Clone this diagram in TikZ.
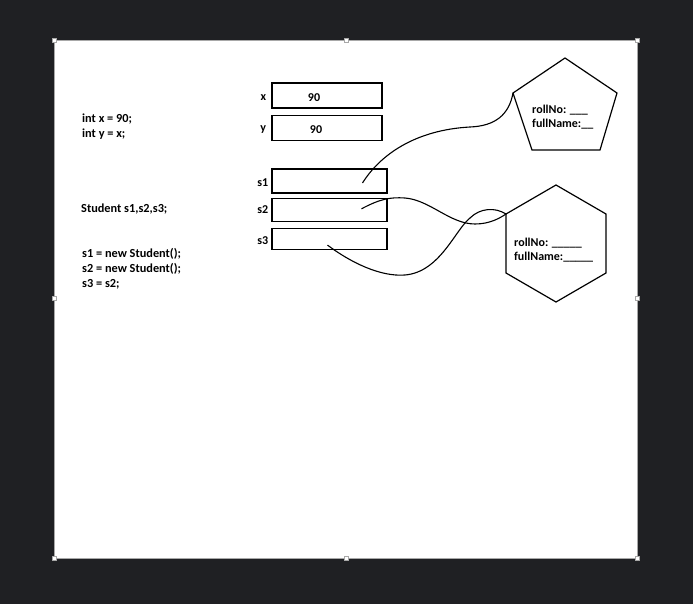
\documentclass[tikz,border=0pt]{standalone}
\usepackage{fontspec}
\setmainfont{Carlito}
\usetikzlibrary{positioning,calc}
\definecolor{bgDark}{HTML}{1F2023}
\definecolor{pageEdge}{HTML}{A8A8A8}
\definecolor{inkBlack}{HTML}{000000}

\begin{document}
\begin{tikzpicture}[x=1pt,y=-1pt,
    varbox/.style={draw=inkBlack,line width=1.3pt,minimum width=110pt,
                   minimum height=25pt,inner sep=0pt},
    refbox/.style={varbox,minimum width=115pt,minimum height=23pt},
    vname/.style={font=\bfseries\fontsize{12}{14}\selectfont,inner sep=0pt},
    code/.style={font=\bfseries\fontsize{12.3}{14.8}\selectfont,align=left,
                 anchor=north west,inner sep=0pt},
    objtxt/.style={font=\bfseries\fontsize{12}{14}\selectfont,align=left,
                   anchor=north west,inner sep=0pt},
    shapeline/.style={draw=inkBlack,line width=1.2pt,line join=miter},
    ref/.style={draw=inkBlack,line width=1.1pt},
    handle/.style={draw=pageEdge,fill=white,line width=0.4pt,
                   minimum size=3.5pt,inner sep=0pt}]
  % background and page
  \fill[bgDark] (0,0) rectangle (693,604);
  \useasboundingbox (0,0) rectangle (693,604);
  \filldraw[fill=white,draw=pageEdge,line width=0.6pt] (54,40) rectangle (637,558);
  \foreach \hx/\hy [count=\i] in {54/40,346/40,637/40,54/298,637/298,54/558,346/558,637/558}
    \node[handle] (h\i) at (\hx,\hy) {};

  % source code
  \node[code] (decl) at (82,113.5) {int x = 90;\\int y = x;};
  \node[code] (stud) at (81,203.5) {Student s1,s2,s3;};
  \node[code] (asgn) at (82,248.5) {s1 = new Student();\\s2 = new Student();\\s3 = s2;};

  % stack boxes
  \node[varbox] (xbox) at (327,95.5) {};
  \node[varbox,below=6pt of xbox] (ybox) {};
  \node[vname] (xval) at ([xshift=-13pt,yshift=-2pt]xbox.center) {90};
  \node[vname] (yval) at ([xshift=-11pt,yshift=-2pt]ybox.center) {90};
  \node[vname,left=5pt of xbox,yshift=-2pt] (xlbl) {x};
  \node[vname,left=5pt of ybox,yshift=-2pt] (ylbl) {y};

  \node[refbox,minimum height=24pt] (s1box) at (329.5,181) {};
  \node[refbox,below=4pt of s1box] (s2box) {};
  \node[refbox,minimum height=21pt,below=6pt of s2box] (s3box) {};
  \node[vname,left=3pt of s1box,yshift=-1.5pt] (s1lbl) {s1};
  \node[vname,left=3pt of s2box] (s2lbl) {s2};
  \node[vname,left=3pt of s3box,yshift=-1.5pt] (s3lbl) {s3};

  % heap objects
  \coordinate (pentN)  at (565,58);
  \coordinate (pentW)  at (513,93);
  \coordinate (pentE)  at (617,93);
  \coordinate (pentSW) at (532,150);
  \coordinate (pentSE) at (600,150);
  \draw[shapeline] (pentN) -- (pentE) -- (pentSE) -- (pentSW) -- (pentW) -- cycle;
  \node[objtxt] (obj1) at (532,104.5) {rollNo: \_\_\_\\fullName:\_\_};

  \coordinate (hexN)  at (556,185);
  \coordinate (hexNE) at (606,214);
  \coordinate (hexSE) at (606,273);
  \coordinate (hexS)  at (556,302);
  \coordinate (hexSW) at (506,273);
  \coordinate (hexNW) at (506,214);
  \draw[shapeline] (hexN) -- (hexNE) -- (hexSE) -- (hexS) -- (hexSW) -- (hexNW) -- cycle;
  \node[objtxt] (obj2) at (514,238) {rollNo: \_\_\_\_\_\\fullName:\_\_\_\_\_};

  % references
  \coordinate (s1ref) at ([xshift=33pt,yshift=-2pt]s1box.center);
  \coordinate (s2ref) at ([xshift=32pt,yshift=1pt]s2box.center);
  \coordinate (s3ref) at ([xshift=-2pt,yshift=-6pt]s3box.center);
  \draw[ref] (s1ref) .. controls (380,155) and (415,130) .. (470,127)
             .. controls (495,126) and (509,115) .. (pentW);
  \draw[ref] (s2ref) .. controls (380,199) and (390,197) .. (405,198)
             .. controls (430,200) and (450,224) .. (475,224)
             .. controls (490,224) and (500,218) .. (hexNW);
  \draw[ref] (s3ref) .. controls (350,262) and (380,277) .. (405,275)
             .. controls (440,272) and (455,230) .. (470,218)
             .. controls (480,208) and (495,207) .. (hexNW);
\end{tikzpicture}
\end{document}
